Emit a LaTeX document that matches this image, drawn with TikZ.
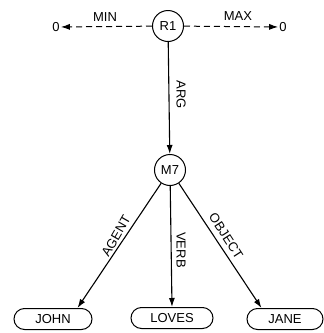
\documentclass[tikz,border=0pt]{standalone}
\usepackage{fontspec}
\setmainfont{Liberation Sans}
\usetikzlibrary{arrows.meta,shapes.misc}
\begin{document}
\begin{tikzpicture}[x=1pt,y=-1pt,
  every node/.style={font=\fontsize{13}{14}\selectfont},
  circ/.style={draw,circle,line width=1pt,minimum size=31pt,inner sep=0pt},
  leaf/.style={draw,rounded rectangle,line width=1pt,minimum width=80pt,minimum height=21pt,inner sep=1pt},
  arr/.style={line width=1.1pt,-{Latex[length=9pt,width=6pt]}},
  darr/.style={line width=1pt,dash pattern=on 6pt off 4pt,-{Latex[length=9pt,width=6pt]}},
  lab/.style={inner sep=0pt}]
\useasboundingbox (0,0) rectangle (324,333);
\node[circ] (r1) at (168,26) {R1};
\node[circ] (m7) at (170,170) {M7};
\node[inner sep=1pt] (z1) at (56,27) {0};
\node[inner sep=1pt] (z2) at (283,27) {0};
\node[leaf] (john) at (53,319) {JOHN};
\node[leaf,minimum width=84pt] (loves) at (172,318) {LOVES};
\node[leaf,minimum width=78pt] (jane) at (285,319) {JANE};
\draw[darr] (r1) -- (z1);
\draw[darr] (r1) -- (z2);
\draw[arr] (r1) -- (m7);
\draw[arr] (m7) -- ([xshift=-4pt]john.north east);
\draw[arr] (m7) -- (loves.north);
\draw[arr] (m7) -- ([xshift=4pt]jane.north west);
\node[lab] (lmin) at (105,17) {MIN};
\node[lab] (lmax) at (238,16) {MAX};
\node[lab,rotate=-90] (larg) at (181,95) {ARG};
\node[lab,rotate=60] (lagent) at (116,236) {AGENT};
\node[lab,rotate=-90] (lverb) at (181,250) {VERB};
\node[lab,rotate=-57] (lobj) at (226,236) {OBJECT};
\end{tikzpicture}
\end{document}
